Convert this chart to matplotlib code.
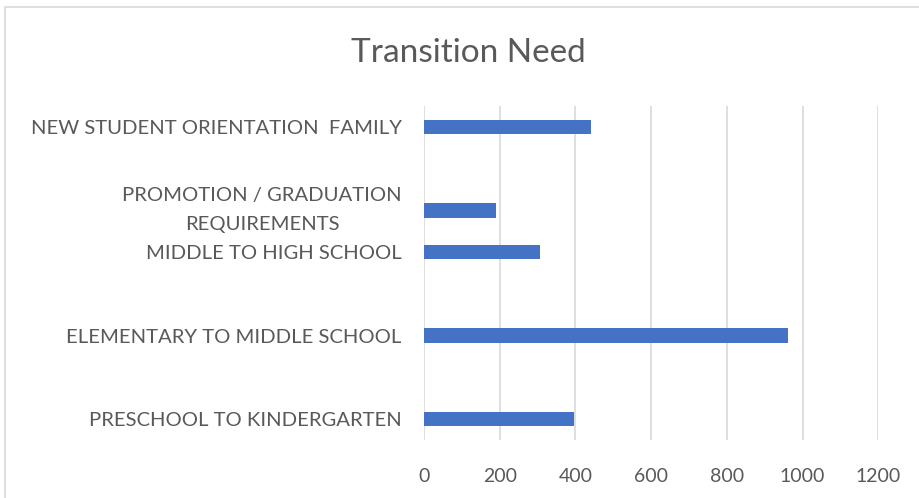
import matplotlib
matplotlib.use("Agg")
import matplotlib.pyplot as plt
from matplotlib.patches import Rectangle

plt.rcParams['font.family'] = ['Lato', 'DejaVu Sans']

# ---- data ----
categories = [
    "PRESCHOOL TO KINDERGARTEN",
    "ELEMENTARY TO MIDDLE SCHOOL",
    "MIDDLE TO HIGH SCHOOL",
    "PROMOTION / GRADUATION\nREQUIREMENTS",
    "NEW STUDENT ORIENTATION  FAMILY",
]
values = [395, 961, 307, 191, 440]
group_index = [0, 1, 2, 2, 3]   # category slot on the axis
series_slot = [0, 0, 0, 1, 1]   # which of the two clustered series
x_ticks = [0, 200, 400, 600, 800, 1000, 1200]
title = "Transition Need"

# ---- style ----
TXT = "#595959"
GRID = "#d9d9d9"
BAR = "#4472C4"
W, H = 920, 498

fig = plt.figure(figsize=(W / 100, H / 100), dpi=100)
ax = fig.add_axes([424 / W, 1 - 440 / H, (878.3 - 424) / W, (440 - 106) / H])

n_groups = max(group_index) + 1
offset = 0.25
ypos = [g + (s - 0.5) * 2 * offset for g, s in zip(group_index, series_slot)]
ax.barh(ypos, values, height=0.171, color=BAR, zorder=3)

ax.set_xlim(0, 1200)
ax.set_ylim(-0.5, n_groups - 0.5)
ax.set_xticks(x_ticks)
ax.set_xticklabels([str(t) for t in x_ticks])
ax.set_yticks(ypos)
ax.set_yticklabels(categories)
for t in ax.get_yticklabels():
    if "\n" in t.get_text():
        t.set_multialignment('center')
        t.set_linespacing(1.85)
        t.set_verticalalignment('center')

ax.grid(axis='x', color=GRID, linewidth=1.2, zorder=0)
for s in ax.spines.values():
    s.set_visible(False)
ax.tick_params(axis='both', length=0)
ax.tick_params(axis='x', labelsize=14, colors=TXT, pad=20)
ax.tick_params(axis='y', labelsize=14.6, colors=TXT, pad=16)

fig.text(468 / W, 1 - 53 / H, title, ha='center', va='center',
         fontsize=24, color=TXT)

# chart border
fig.patches.append(Rectangle((4.5 / W, -0.1), 1.2, 1 - 7 / H + 0.1,
                             transform=fig.transFigure, fill=False,
                             edgecolor=GRID, linewidth=1.2))

fig.savefig("out.png", dpi=100)
